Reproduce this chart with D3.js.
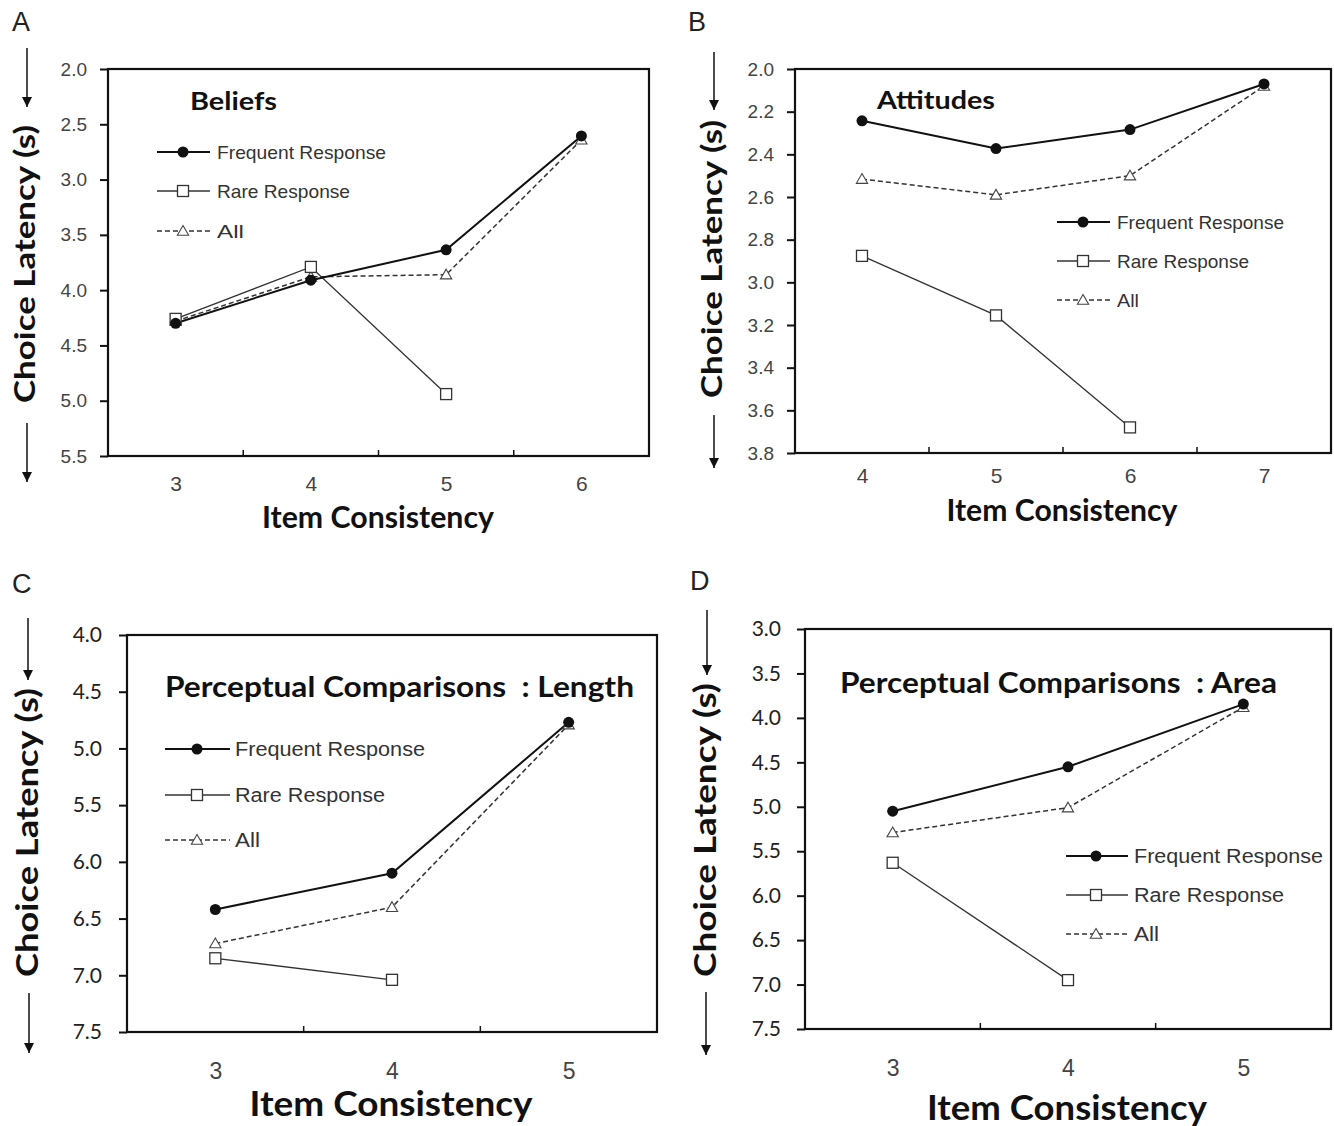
<!DOCTYPE html>
<html>
<head>
<meta charset="utf-8">
<script src="https://cdn.jsdelivr.net/npm/d3@7"></script>
<style>
  html, body { margin: 0; padding: 0; background: #fff; }
  svg { display: block; }
</style>
</head>
<body>
<svg id="chart" width="1334" height="1126"></svg>
<script>
// ---------------- DATA ----------------
const seriesNames = ["Frequent Response", "Rare Response", "All"];

// Panel A: Beliefs
const catsA = [3, 4, 5, 6];
const freqA = [4.30, 3.91, 3.635, 2.605];
const rareA = [4.26, 3.79, 4.94, null];
const allA  = [4.28, 3.88, 3.86, 2.64];
const ticksA = [2.0, 2.5, 3.0, 3.5, 4.0, 4.5, 5.0, 5.5];

// Panel B: Attitudes
const catsB = [4, 5, 6, 7];
const freqB = [2.243, 2.373, 2.284, 2.07];
const rareB = [2.876, 3.155, 3.68, null];
const allB  = [2.516, 2.59, 2.50, 2.08];
const ticksB = [2.0, 2.2, 2.4, 2.6, 2.8, 3.0, 3.2, 3.4, 3.6, 3.8];

// Panel C: Perceptual Comparisons : Length
const catsC = [3, 4, 5];
const freqC = [6.42, 6.10, 4.77];
const rareC = [6.85, 7.04, null];
const allC  = [6.72, 6.40, 4.79];
const ticksC = [4.0, 4.5, 5.0, 5.5, 6.0, 6.5, 7.0, 7.5];

// Panel D: Perceptual Comparisons : Area
const catsD = [3, 4, 5];
const freqD = [5.05, 4.55, 3.845];
const rareD = [5.63, 6.95, null];
const allD  = [5.29, 5.01, 3.88];
const ticksD = [3.0, 3.5, 4.0, 4.5, 5.0, 5.5, 6.0, 6.5, 7.0, 7.5];

const titles = ["Beliefs", "Attitudes", "Perceptual Comparisons  : Length", "Perceptual Comparisons  : Area"];
const panelLetters = ["A", "B", "C", "D"];
const yTitle = "Choice Latency (s)";
const xTitle = "Item Consistency";

// ---------------- LAYOUT ----------------
const PLAIN = "'Liberation Sans', Arial, sans-serif";
const BOLD = "Lato, 'Open Sans', 'DejaVu Sans', sans-serif";

const panels = [
  { letter: panelLetters[0], title: titles[0], cats: catsA, freq: freqA, rare: rareA, all: allA, ticks: ticksA,
    box: [108, 69, 649, 456], letterPos: [12, 31], letterSize: 27,
    tickFont: PLAIN, tickSize: 19, tickColor: "#444", tickPad: 13, xLabelY: 484, xLabelSize: 21,
    titlePos: [190, 110], titleSize: 25, titleLen: 87,
    yTitleX: 25, yTitleSpan: [125, 403], yTitleSize: 28,
    xTitlePos: [378, 528], xTitleSize: 30, xTitleLen: 232,
    arrows: [[27, 48, 107], [27, 423, 482]],
    legend: { x0: 157, x1: 210, mx: 183, tx: 217, rows: [152, 191, 231], size: 19, len: [169, 133, 27], font: PLAIN } },
  { letter: panelLetters[1], title: titles[1], cats: catsB, freq: freqB, rare: rareB, all: allB, ticks: ticksB,
    box: [795, 69, 1331, 453], letterPos: [688, 31], letterSize: 27,
    tickFont: PLAIN, tickSize: 19, tickColor: "#444", tickPad: 13, xLabelY: 476, xLabelSize: 21,
    titlePos: [877, 109], titleSize: 25, titleLen: 118,
    yTitleX: 712, yTitleSpan: [120, 398], yTitleSize: 28,
    xTitlePos: [1062, 521], xTitleSize: 30, xTitleLen: 231,
    arrows: [[714, 52, 110], [714, 415, 468]],
    legend: { x0: 1057, x1: 1110, mx: 1083, tx: 1117, rows: [222, 261, 300], size: 19, len: [167, 132, 22], font: PLAIN } },
  { letter: panelLetters[2], title: titles[2], cats: catsC, freq: freqC, rare: rareC, all: allC, ticks: ticksC,
    box: [127, 635, 657, 1032], letterPos: [12, 593], letterSize: 27,
    tickFont: BOLD, tickSize: 21, tickColor: "#222", tickPad: 17, xLabelY: 1071, xLabelSize: 23,
    titlePos: [165, 697], titleSize: 28, titleLen: 469,
    yTitleX: 27, yTitleSpan: [688, 977], yTitleSize: 31,
    xTitlePos: [391, 1116], xTitleSize: 34, xTitleLen: 283,
    arrows: [[28, 618, 680], [29, 993, 1053]],
    legend: { x0: 165, x1: 230, mx: 197, tx: 235, rows: [749, 795, 840], size: 20, len: [190, 150, 25], font: PLAIN } },
  { letter: panelLetters[3], title: titles[3], cats: catsD, freq: freqD, rare: rareD, all: allD, ticks: ticksD,
    box: [805, 629, 1331, 1029], letterPos: [690, 590], letterSize: 27,
    tickFont: BOLD, tickSize: 21, tickColor: "#222", tickPad: 16, xLabelY: 1068, xLabelSize: 23,
    titlePos: [840, 693], titleSize: 28, titleLen: 437,
    yTitleX: 705, yTitleSpan: [683, 977], yTitleSize: 31,
    xTitlePos: [1067, 1120], xTitleSize: 34, xTitleLen: 280,
    arrows: [[707, 610, 675], [706, 992, 1055]],
    legend: { x0: 1066, x1: 1128, mx: 1096, tx: 1134, rows: [856, 895, 934], size: 20, len: [189, 150, 25], font: PLAIN } }
];

const svg = d3.select("#chart");
const defs = svg.append("defs");
defs.append("marker").attr("id", "arrowhead")
  .attr("viewBox", "0 0 10 10").attr("refX", 10).attr("refY", 5)
  .attr("markerWidth", 10).attr("markerHeight", 12).attr("markerUnits", "userSpaceOnUse")
  .attr("orient", "auto")
  .append("path").attr("d", "M0,0 L10,5 L0,10 Z").attr("fill", "#111");

const styles = {
  freq: { stroke: "#111", width: 2.0, dash: null },
  rare: { stroke: "#333", width: 1.3, dash: null },
  all:  { stroke: "#333", width: 1.5, dash: "5,3" }
};

function drawMarker(g, kind, cx, cy) {
  if (kind === "freq") {
    g.append("circle").attr("cx", cx).attr("cy", cy).attr("r", 5.5).attr("fill", "#111");
  } else if (kind === "rare") {
    g.append("rect").attr("x", cx - 5.5).attr("y", cy - 5.5).attr("width", 11).attr("height", 11)
      .attr("fill", "#fff").attr("stroke", "#333").attr("stroke-width", 1.3);
  } else {
    g.append("path").attr("transform", `translate(${cx},${cy + 1})`)
      .attr("d", d3.symbol(d3.symbolTriangle, 55)())
      .attr("fill", "#fff").attr("stroke", "#444").attr("stroke-width", 1.1);
  }
}

panels.forEach(p => {
  const [L, T, R, B] = p.box;
  const g = svg.append("g");

  const x = d3.scalePoint().domain(p.cats).range([L, R]).padding(0.5);
  const y = d3.scaleLinear().domain([p.ticks[0], p.ticks[p.ticks.length - 1]]).range([T, B]);

  // panel letter
  g.append("text").attr("x", p.letterPos[0]).attr("y", p.letterPos[1])
    .attr("font-family", PLAIN).attr("font-size", p.letterSize)
    .attr("fill", "#222").text(p.letter);

  // y axis ticks & labels
  const yAxis = d3.axisLeft(y).tickValues(p.ticks).tickSize(8).tickPadding(p.tickPad)
    .tickFormat(d3.format(".1f"));
  const ya = g.append("g").attr("transform", `translate(${L},0)`).call(yAxis);
  ya.select(".domain").remove();
  ya.selectAll(".tick line").attr("stroke", "#111").attr("stroke-width", 2);
  ya.selectAll(".tick text").attr("font-family", p.tickFont).attr("font-size", p.tickSize)
    .attr("fill", p.tickColor);

  // x axis labels
  const xAxis = d3.axisBottom(x).tickSize(0).tickPadding(0);
  const xa = g.append("g").attr("transform", `translate(0,${p.xLabelY})`).call(xAxis);
  xa.select(".domain").remove();
  xa.selectAll(".tick text").attr("y", 0).attr("dy", "0.35em").attr("font-family", PLAIN)
    .attr("font-size", p.xLabelSize).attr("fill", "#444");

  // category boundary ticks (inside, pointing up)
  const step = x.step();
  p.cats.slice(0, -1).forEach(c => {
    const bx = x(c) + step / 2;
    g.append("line").attr("x1", bx).attr("x2", bx).attr("y1", B).attr("y2", B - 6)
      .attr("stroke", "#111").attr("stroke-width", 1.5);
  });

  // frame
  g.append("rect").attr("x", L).attr("y", T).attr("width", R - L).attr("height", B - T)
    .attr("fill", "none").attr("stroke", "#111").attr("stroke-width", 2.2);

  // title
  g.append("text").attr("x", p.titlePos[0]).attr("y", p.titlePos[1])
    .attr("font-family", BOLD).attr("font-weight", 700).attr("font-size", p.titleSize)
    .attr("fill", "#111").attr("textLength", p.titleLen).attr("lengthAdjust", "spacingAndGlyphs")
    .style("white-space", "pre").text(p.title);

  // series lines
  const line = d3.line().defined(d => d.v != null).x(d => x(d.c)).y(d => y(d.v));
  const order = [["all", p.all], ["rare", p.rare], ["freq", p.freq]];
  order.forEach(([k, vals]) => {
    const pts = p.cats.map((c, i) => ({ c, v: vals[i] }));
    g.append("path").datum(pts).attr("d", line).attr("fill", "none")
      .attr("stroke", styles[k].stroke).attr("stroke-width", styles[k].width)
      .attr("stroke-dasharray", styles[k].dash);
  });
  order.forEach(([k, vals]) => {
    p.cats.forEach((c, i) => { if (vals[i] != null) drawMarker(g, k, x(c), y(vals[i])); });
  });

  // legend
  const lg = p.legend;
  ["freq", "rare", "all"].forEach((k, i) => {
    const ry = lg.rows[i];
    g.append("line").attr("x1", lg.x0).attr("x2", lg.x1).attr("y1", ry).attr("y2", ry)
      .attr("stroke", styles[k].stroke).attr("stroke-width", styles[k].width)
      .attr("stroke-dasharray", styles[k].dash);
    drawMarker(g, k, lg.mx, ry);
    g.append("text").attr("x", lg.tx).attr("y", ry).attr("dy", "0.35em")
      .attr("font-family", lg.font).attr("font-size", lg.size).attr("fill", "#333")
      .attr("textLength", lg.len[i]).attr("lengthAdjust", "spacingAndGlyphs")
      .text(seriesNames[i]);
  });

  // y title (rotated)
  const yc = (p.yTitleSpan[0] + p.yTitleSpan[1]) / 2;
  g.append("text").attr("transform", `translate(${p.yTitleX},${yc}) rotate(-90)`)
    .attr("text-anchor", "middle").attr("dy", "0.35em")
    .attr("font-family", BOLD).attr("font-weight", 700).attr("font-size", p.yTitleSize)
    .attr("fill", "#111").attr("textLength", p.yTitleSpan[1] - p.yTitleSpan[0])
    .attr("lengthAdjust", "spacingAndGlyphs").text(yTitle);

  // x title
  g.append("text").attr("x", p.xTitlePos[0]).attr("y", p.xTitlePos[1]).attr("text-anchor", "middle")
    .attr("font-family", BOLD).attr("font-weight", 700).attr("font-size", p.xTitleSize)
    .attr("fill", "#111").attr("textLength", p.xTitleLen).attr("lengthAdjust", "spacingAndGlyphs")
    .text(xTitle);

  // arrows
  p.arrows.forEach(([ax, y0, y1]) => {
    g.append("line").attr("x1", ax).attr("x2", ax).attr("y1", y0).attr("y2", y1)
      .attr("stroke", "#111").attr("stroke-width", 1.5).attr("marker-end", "url(#arrowhead)");
  });
});
</script>
</body>
</html>
